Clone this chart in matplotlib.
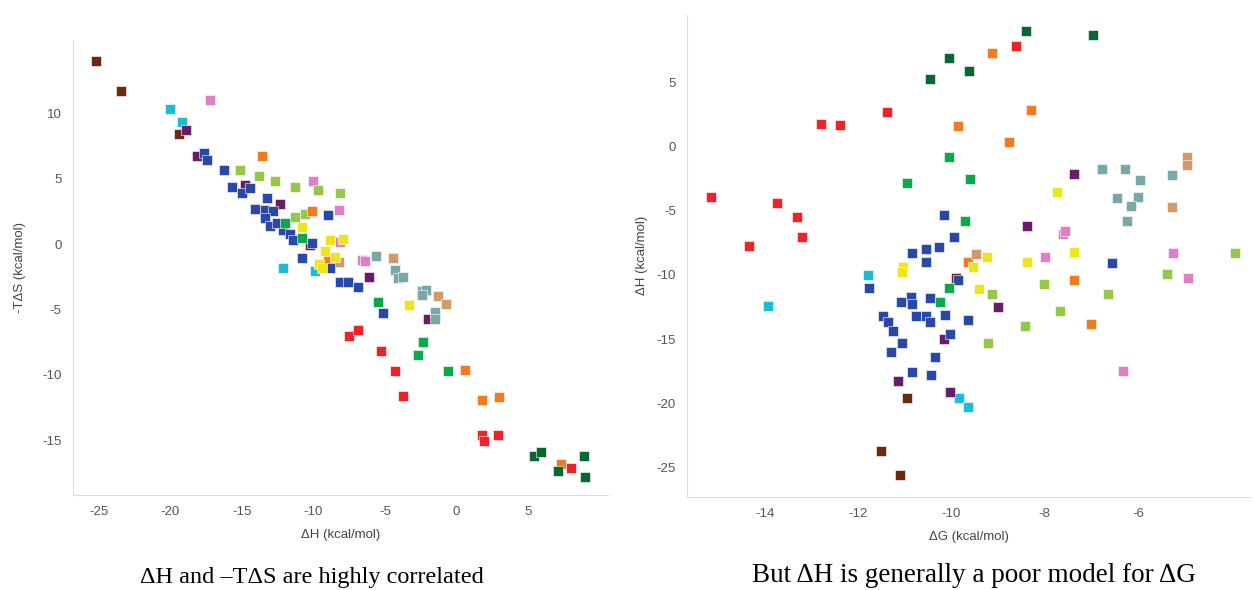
import matplotlib.pyplot as plt

plt.rcParams['font.family'] = ['Liberation Sans', 'DejaVu Sans']
plt.rcParams['axes.unicode_minus'] = False

# colours of the compound series
colors = {
    "brown": "#6B2A10", "cyan": "#1BBCD4", "pink": "#E07FC6", "purple": "#6A1B6A",
    "lightgreen": "#95C74A", "orange": "#F47A20", "tan": "#D2996B", "teal": "#7AA8A8",
    "blue": "#2A48A8", "green": "#0DA84C", "yellow": "#EEE41C", "red": "#EE2229",
    "darkgreen": "#0A6733",
}

# left panel: (dH, -TdS)
left_brown = [(-25.2, 14.0), (-23.4, 11.7), (-19.4, 8.4), (-10.2, -0.1)]
left_cyan = [(-20.0, 10.3), (-19.2, 9.3), (-12.1, -1.8), (-9.9, -2.1)]
left_pink = [(-17.2, 11.0), (-10.0, 4.8), (-8.2, 2.6), (-6.6, -1.2), (-6.4, -1.3), (-8.1, 0.15)]
left_purple = [(-18.9, 8.7), (-18.1, 6.7), (-14.8, 4.5), (-12.3, 3.1), (-6.1, -2.5), (-2.0, -5.7)]
left_lightgreen = [(-15.1, 5.7), (-13.8, 5.2), (-12.7, 4.8), (-11.3, 4.4), (-9.7, 4.1),
                   (-8.1, 3.9), (-11.3, 2.1), (-10.6, 2.3)]
left_orange = [(-13.6, 6.7), (-10.1, 2.5), (-9.0, -1.2), (0.6, -9.6), (1.8, -11.9),
               (3.0, -11.7), (7.3, -16.8)]
left_tan = [(-4.4, -1.1), (-8.2, -1.4), (-1.3, -4.0), (-0.7, -4.6)]
left_teal = [(-5.6, -0.9), (-4.3, -2.0), (-4.1, -2.6), (-3.7, -2.5), (-2.4, -3.6),
             (-2.1, -3.5), (-2.4, -3.9), (-1.5, -5.2), (-1.5, -5.7)]
left_blue = [(-17.6, 7.0), (-17.4, 6.4), (-16.2, 5.7), (-15.7, 4.4), (-15.0, 3.9),
             (-14.4, 4.3), (-13.2, 3.5), (-14.1, 2.7), (-13.4, 2.6), (-12.8, 2.5),
             (-13.4, 2.0), (-13.0, 1.4), (-12.1, 1.1), (-11.6, 0.8), (-11.4, 0.3),
             (-10.1, 0.1), (-9.0, 2.2), (-10.8, -1.1), (-8.8, -1.8), (-8.1, -2.9),
             (-7.6, -2.9), (-6.9, -3.3), (-5.1, -5.3), (-12.5, 1.6)]
left_green = [(-12.0, 1.6), (-10.8, 0.5), (-5.5, -4.4), (-2.3, -7.5), (-2.7, -8.5), (-0.6, -9.7)]
left_yellow = [(-10.8, 1.3), (-8.8, 0.3), (-7.9, 0.4), (-9.2, -0.5), (-8.5, -1.0),
               (-9.6, -1.5), (-9.4, -1.8), (-3.3, -4.7)]
left_red = [(-7.5, -7.0), (-6.9, -6.6), (-5.3, -8.2), (-4.3, -9.7), (-3.7, -11.6),
            (1.8, -14.6), (1.9, -15.1), (2.9, -14.6), (8.0, -17.1)]
left_darkgreen = [(5.4, -16.2), (5.9, -15.9), (8.9, -16.2), (7.1, -17.4), (9.0, -17.8)]

# right panel: (dG, dH)
right_brown = [(-9.9, -10.2), (-10.95, -19.6), (-11.51, -23.7), (-11.1, -25.6)]
right_cyan = [(-11.79, -10.0), (-13.94, -12.4), (-9.84, -19.6), (-9.64, -20.3)]
right_pink = [(-7.99, -8.6), (-7.6, -6.8), (-7.56, -6.6), (-5.24, -8.3), (-4.92, -10.2),
              (-6.31, -17.5)]
right_purple = [(-11.15, -18.3), (-10.03, -19.1), (-10.16, -15.0), (-9.0, -12.5),
                (-7.37, -2.1), (-8.38, -6.2)]
right_lightgreen = [(-9.13, -11.5), (-9.21, -15.3), (-8.42, -14.0), (-8.01, -10.7),
                    (-7.67, -12.8), (-6.64, -11.5), (-5.37, -9.9), (-3.91, -8.3)]
right_orange = [(-9.86, 1.6), (-8.29, 2.9), (-8.76, 0.4), (-9.13, 7.3), (-9.64, -9.0),
                (-7.37, -10.4), (-7.0, -13.8)]
right_tan = [(-4.94, -0.8), (-4.94, -1.4), (-5.27, -4.7), (-9.47, -8.4)]
right_teal = [(-6.77, -1.7), (-6.27, -1.7), (-5.95, -2.6), (-5.27, -2.2), (-6.45, -4.0),
              (-6.0, -3.9), (-6.15, -4.6), (-6.23, -5.8)]
right_blue = [(-10.16, -5.3), (-9.94, -7.0), (-10.27, -7.8), (-10.54, -8.0), (-10.85, -8.3),
              (-10.54, -9.0), (-11.77, -11.0), (-9.86, -10.4), (-10.87, -11.7), (-11.08, -12.1),
              (-10.85, -12.3), (-10.46, -11.8), (-10.76, -13.2), (-10.54, -13.2), (-10.46, -13.7),
              (-10.14, -13.1), (-9.64, -13.5), (-11.47, -13.2), (-11.36, -13.7), (-11.25, -14.4),
              (-11.06, -15.3), (-10.03, -14.6), (-11.3, -16.0), (-10.85, -17.6), (-10.44, -17.8),
              (-10.35, -16.4), (-6.55, -9.1)]
right_green = [(-10.95, -2.8), (-10.05, -0.8), (-9.6, -2.5), (-9.71, -5.8), (-10.05, -11.0),
               (-10.24, -12.1)]
right_yellow = [(-11.04, -9.4), (-11.06, -9.8), (-9.54, -9.4), (-9.24, -8.6), (-9.41, -11.1),
                (-8.38, -9.0), (-7.37, -8.2), (-7.73, -3.5)]
right_red = [(-15.16, -3.9), (-14.34, -7.7), (-13.74, -4.4), (-13.31, -5.5), (-13.2, -7.0),
             (-12.8, 1.8), (-12.39, 1.7), (-11.38, 2.7), (-8.61, 7.9)]
right_darkgreen = [(-10.46, 5.3), (-10.05, 6.9), (-9.62, 5.9), (-8.40, 9.0), (-6.96, 8.7)]

order = ["brown", "cyan", "pink", "purple", "lightgreen", "orange", "tan", "teal",
         "blue", "green", "yellow", "red", "darkgreen"]
left_groups = [left_brown, left_cyan, left_pink, left_purple, left_lightgreen, left_orange,
               left_tan, left_teal, left_blue, left_green, left_yellow, left_red, left_darkgreen]
right_groups = [right_brown, right_cyan, right_pink, right_purple, right_lightgreen, right_orange,
                right_tan, right_teal, right_blue, right_green, right_yellow, right_red, right_darkgreen]

fig = plt.figure(figsize=(12.54, 5.9), dpi=100)
ax1 = fig.add_axes([0.058, 0.161, 0.427, 0.771])
ax2 = fig.add_axes([0.548, 0.158, 0.449, 0.817])


def draw(ax, groups):
    for name, pts in zip(order, groups):
        xs = [p[0] for p in pts]
        ys = [p[1] for p in pts]
        ax.scatter(xs, ys, marker="s", s=62, color=colors[name],
                   edgecolors="white", linewidths=0.4, zorder=3)
    for side in ["top", "right"]:
        ax.spines[side].set_visible(False)
    for side in ["left", "bottom"]:
        ax.spines[side].set_color("#dddddd")
    ax.tick_params(length=0, labelsize=9.5, colors="#555555", pad=8)


draw(ax1, left_groups)
ax1.set_xlim(-26.8, 10.6)
ax1.set_ylim(-19.2, 15.6)
ax1.set_xticks([-25, -20, -15, -10, -5, 0, 5])
ax1.set_yticks([-15, -10, -5, 0, 5, 10])
ax1.set_xlabel("ΔH (kcal/mol)", fontsize=9.5, color="#444444", labelpad=8)
ax1.set_ylabel("-TΔS (kcal/mol)", fontsize=9.5, color="#444444", labelpad=12)

draw(ax2, right_groups)
ax2.set_xlim(-15.67, -3.59)
ax2.set_ylim(-27.3, 10.3)
ax2.set_xticks([-14, -12, -10, -8, -6])
ax2.set_yticks([-25, -20, -15, -10, -5, 0, 5])
ax2.set_xlabel("ΔG (kcal/mol)", fontsize=9.5, color="#444444", labelpad=8)
ax2.set_ylabel("ΔH (kcal/mol)", fontsize=9.5, color="#444444", labelpad=6)

fig.text(0.249, 0.004, "ΔH and –TΔS are highly correlated", fontsize=17.5,
         family="Liberation Serif", ha="center", va="bottom")
fig.text(0.777, 0.004, "But ΔH is generally a poor model for ΔG", fontsize=19.5,
         family="Liberation Serif", ha="center", va="bottom")

fig.savefig("out.png", dpi=100)
